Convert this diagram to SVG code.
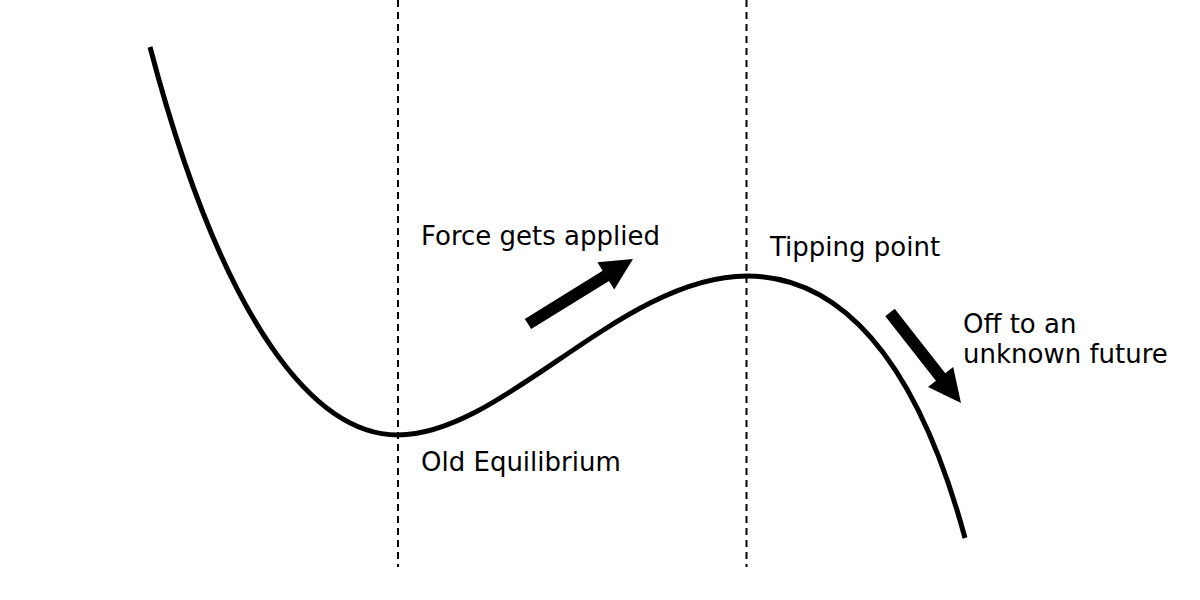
<svg xmlns="http://www.w3.org/2000/svg" width="1200" height="600" viewBox="0 0 1200 600">
  <style>
    .lbl { font-family: "DejaVu Sans", "Liberation Sans", sans-serif; font-size: 26px; fill: #000; }
    .guide { stroke: #000; stroke-width: 2; stroke-dasharray: 7 5; fill: none; }
    .curve { stroke: #000; stroke-width: 5; fill: none; stroke-linecap: butt; stroke-linejoin: round; }
    .arrow { fill: #000; stroke: none; }
  </style>
  <rect width="1200" height="600" fill="#fff"/>
  <g id="guides">
    <line class="guide" x1="398" y1="0" x2="398" y2="567"/>
    <line class="guide" x1="746.5" y1="0" x2="746.5" y2="567"/>
  </g>
  <g id="curve">
    <path class="curve" d="M150,47 C225,332 318,435 398,435 C503,435 622,276 747,276 C837,276 915,353 965,538"/>
  </g>
  <g id="connectors">
    <polygon id="arrow-force" class="arrow" points="524.8,318.9 602.6,270.7 597.4,262.2 633,259 614.2,289.4 609,280.9 531.2,329.1"/>
    <polygon id="arrow-off" class="arrow" points="885.3,316.2 894.7,308.8 945.3,373.3 953.2,367.1 961,403 928,386.9 935.9,380.7"/>
  </g>
  <g id="label-force"><text class="lbl" x="421" y="245">Force gets applied</text></g>
  <g id="label-tipping"><text class="lbl" x="770" y="256">Tipping point</text></g>
  <g id="label-off">
    <text class="lbl" x="963" y="333">Off to an</text>
    <text class="lbl" x="963" y="363">unknown future</text>
  </g>
  <g id="label-old"><text class="lbl" x="421" y="471">Old Equilibrium</text></g>
</svg>
